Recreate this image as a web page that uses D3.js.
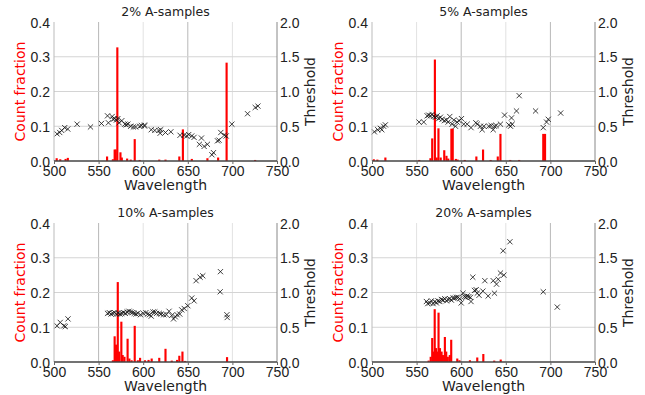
<!DOCTYPE html>
<html lang="en">
<head>
<meta charset="UTF-8">
<script src="https://cdn.jsdelivr.net/npm/d3@7"></script>
<style>
  body { margin: 0; padding: 0; background: #fff; overflow: hidden; }
  svg { display: block; font-family: "DejaVu Sans", sans-serif; }
  .grid line { stroke: #d4d4d4; stroke-width: 1; }
  .tick text { font-size: 14px; fill: #222; }
</style>
</head>
<body>
<div id="chart"></div>
<script>
const titles = ["2% A-samples", "5% A-samples", "10% A-samples", "20% A-samples"];
const xTicks = [500, 550, 600, 650, 700, 750];
const countTicks = [0.0, 0.1, 0.2, 0.3, 0.4];
const thrTicks = [0.0, 0.5, 1.0, 1.5, 2.0];

// count fraction bars (wavelength, fraction)
const bars2W = [503, 507, 513, 515.5, 559.5, 566, 568, 569.2, 571, 574.5, 576, 582, 586, 590.5, 596, 618, 625, 640.5, 644.5, 654.5, 672, 684, 693.5, 725.5];
const bars2V = [0.008, 0.005, 0.006, 0.009, 0.013, 0.005, 0.033, 0.033, 0.327, 0.025, 0.01, 0.007, 0.004, 0.063, 0.003, 0.004, 0.004, 0.013, 0.091, 0.006, 0.008, 0.01, 0.283, 0.003];
const bars5W = [502, 506, 515, 553, 565.5, 567.5, 570.5, 572.5, 574.5, 577, 581, 583.5, 585.5, 589, 590.5, 594, 596, 604, 617, 624.5, 633, 641, 644, 655, 665, 692, 694];
const bars5V = [0.005, 0.004, 0.01, 0.003, 0.008, 0.065, 0.292, 0.01, 0.094, 0.01, 0.031, 0.015, 0.007, 0.093, 0.093, 0.006, 0.004, 0.003, 0.013, 0.033, 0.003, 0.013, 0.078, 0.003, 0.003, 0.078, 0.078];
const bars10W = [566, 568, 569.5, 571.5, 573, 575.5, 577, 579, 582.5, 584.5, 587, 590.5, 594, 596.5, 602, 606, 609.5, 618, 625, 632, 638, 640.5, 644, 647, 694];
const bars10V = [0.005, 0.074, 0.05, 0.23, 0.03, 0.116, 0.02, 0.015, 0.067, 0.01, 0.005, 0.104, 0.005, 0.012, 0.005, 0.006, 0.01, 0.012, 0.038, 0.004, 0.006, 0.018, 0.03, 0.003, 0.014];
const bars20W = [563.5, 565.8, 567.5, 569, 570.3, 571.8, 573.2, 574.6, 576.2, 578, 579.5, 581.7, 583.2, 585, 587.2, 588.8, 595.6, 598, 609.8, 618, 624.8, 637, 644.3];
const bars20V = [0.004, 0.015, 0.069, 0.03, 0.152, 0.04, 0.03, 0.142, 0.04, 0.03, 0.02, 0.072, 0.03, 0.015, 0.02, 0.064, 0.01, 0.005, 0.005, 0.013, 0.023, 0.004, 0.007];

// threshold markers (wavelength, threshold)
const pts2W = [503.4, 506.4, 508.6, 512, 515.4, 525.9, 540.9, 553.2, 560, 561, 565.2, 566.3, 568, 570, 571.6, 573, 576, 579.5, 581, 582.8, 586, 589, 591.5, 596, 598, 601, 602, 609, 613, 617.7, 619.6, 619, 625, 631, 641.3, 645.8, 648.8, 651, 654.4, 657, 663, 665.3, 668.3, 672, 677, 678.8, 683.3, 685, 687, 690.8, 693, 699.4, 717, 725.6, 728.6];
const pts2T = [0.39, 0.41, 0.44, 0.48, 0.46, 0.53, 0.49, 0.54, 0.65, 0.55, 0.64, 0.60, 0.61, 0.59, 0.61, 0.55, 0.58, 0.53, 0.52, 0.53, 0.50, 0.49, 0.49, 0.50, 0.51, 0.51, 0.51, 0.45, 0.44, 0.44, 0.45, 0.40, 0.41, 0.42, 0.37, 0.37, 0.36, 0.38, 0.36, 0.34, 0.24, 0.33, 0.21, 0.24, 0.09, 0.12, 0.29, 0.30, 0.41, 0.37, 0.36, 0.53, 0.68, 0.77, 0.79];
const pts5W = [502.6, 506.4, 509.4, 511, 513, 515, 552.8, 558, 561.8, 563.6, 565.5, 567.4, 569.2, 571.1, 573, 574.8, 576.7, 578.6, 581.2, 583.5, 585.3, 587.2, 589.8, 591.7, 593.6, 595.4, 597.7, 600.3, 602.9, 606.7, 611, 616.4, 618, 621.6, 623.5, 625.4, 631, 633.6, 635.9, 637.3, 639.2, 644, 648.6, 653.4, 655.3, 656.4, 657.2, 662, 665, 683.4, 692, 695.7, 697.6, 711.5];
const pts5T = [0.42, 0.45, 0.47, 0.45, 0.50, 0.52, 0.56, 0.56, 0.65, 0.66, 0.65, 0.67, 0.64, 0.63, 0.65, 0.61, 0.63, 0.60, 0.58, 0.59, 0.56, 0.64, 0.53, 0.59, 0.50, 0.56, 0.58, 0.61, 0.53, 0.53, 0.48, 0.55, 0.53, 0.50, 0.45, 0.50, 0.50, 0.51, 0.45, 0.50, 0.51, 0.53, 0.66, 0.52, 0.50, 0.62, 0.53, 0.72, 0.94, 0.72, 0.48, 0.56, 0.60, 0.69];
const pts10W = [503.4, 507, 511, 512.7, 515.7, 560, 562, 564, 566, 568, 570, 572, 574, 576, 578, 580, 582, 584, 586, 588, 590, 592, 594, 597, 600, 603, 605, 607, 609, 611, 613, 615, 618, 620, 623, 626, 629, 632, 634, 636, 638, 641, 643.2, 646, 650, 654.4, 657, 659.3, 663.8, 666.8, 686.6, 686.3, 693.8, 694.2];
const pts10T = [0.52, 0.57, 0.52, 0.51, 0.62, 0.70, 0.71, 0.69, 0.70, 0.71, 0.69, 0.70, 0.69, 0.70, 0.71, 0.70, 0.72, 0.73, 0.72, 0.71, 0.70, 0.69, 0.70, 0.68, 0.70, 0.71, 0.69, 0.68, 0.66, 0.72, 0.72, 0.70, 0.70, 0.69, 0.68, 0.68, 0.73, 0.67, 0.62, 0.65, 0.68, 0.69, 0.75, 0.77, 0.81, 0.92, 0.88, 1.17, 1.22, 1.24, 1.30, 1.01, 0.68, 0.64];
const pts20W = [561, 562.5, 564.7, 566.6, 568.5, 570.4, 572.2, 574, 576, 577.8, 579.7, 581.6, 583.5, 585.3, 587.2, 589, 591, 592.8, 594.7, 596.6, 598.4, 600, 602, 603.7, 605.2, 606.7, 608.5, 610.4, 611, 613, 614.9, 616.8, 618, 620, 624.3, 626.5, 630.2, 635.9, 637.3, 639.6, 641.5, 644, 647.8, 647, 654.6, 692, 707.7];
const pts20T = [0.87, 0.84, 0.85, 0.88, 0.84, 0.87, 0.85, 0.88, 0.87, 0.90, 0.89, 0.91, 0.88, 0.90, 0.91, 0.89, 0.92, 0.92, 0.93, 0.93, 0.91, 0.85, 0.99, 0.94, 0.93, 0.95, 0.94, 0.93, 0.87, 1.22, 1.03, 1.04, 0.99, 0.96, 1.02, 1.17, 0.95, 1.17, 0.99, 1.12, 1.19, 1.28, 1.25, 1.60, 1.73, 1.01, 0.79];

const panels = [
  { title: titles[0], bw: bars2W, bv: bars2V, pw: pts2W, pt: pts2T, left: 54, top: 22, darkOdd: false },
  { title: titles[1], bw: bars5W, bv: bars5V, pw: pts5W, pt: pts5T, left: 372, top: 22, darkOdd: true },
  { title: titles[2], bw: bars10W, bv: bars10V, pw: pts10W, pt: pts10T, left: 54, top: 223, darkOdd: false },
  { title: titles[3], bw: bars20W, bv: bars20V, pw: pts20W, pt: pts20T, left: 372, top: 223, darkOdd: true }
];

const width = 645, height = 395;
const pw = 223, ph = 139;

const svg = d3.select("#chart").append("svg")
  .attr("width", width)
  .attr("height", height);

panels.forEach(p => {
  const g = svg.append("g").attr("transform", `translate(${p.left},${p.top})`);

  const x = d3.scaleLinear().domain([500, 750]).range([0, pw]);
  const yc = d3.scaleLinear().domain([0, 0.4]).range([ph, 0]);
  const yt = d3.scaleLinear().domain([0, 2.0]).range([ph, 0]);

  // grid (resampled image makes every other line look darker)
  const grid = g.append("g").attr("class", "grid");
  grid.selectAll(".vx").data(xTicks.slice(1, -1)).enter().append("line")
    .attr("x1", d => x(d)).attr("x2", d => x(d))
    .attr("y1", 0).attr("y2", ph)
    .style("stroke", (d, i) => (i % 2 === 1) === p.darkOdd ? "#b8b8b8" : "#e2e2e2");
  grid.selectAll(".hy").data(countTicks.slice(1, -1)).enter().append("line")
    .attr("x1", 0).attr("x2", pw)
    .attr("y1", d => yc(d)).attr("y2", d => yc(d));

  // bars
  g.append("g").selectAll("rect")
    .data(p.bw.map((w, i) => ({ w, v: p.bv[i] })))
    .enter().append("rect")
    .attr("x", d => x(d.w - 1.2))
    .attr("width", d => x(d.w + 1.2) - x(d.w - 1.2))
    .attr("y", d => yc(d.v))
    .attr("height", d => ph - yc(d.v))
    .attr("fill", "#ff0000");

  // x markers
  const s = 2.6;
  g.append("g").selectAll("path")
    .data(p.pw.map((w, i) => ({ w, t: p.pt[i] })))
    .enter().append("path")
    .attr("d", d => {
      const cx = x(d.w), cy = yt(d.t);
      return `M${cx - s},${cy - s}L${cx + s},${cy + s}M${cx - s},${cy + s}L${cx + s},${cy - s}`;
    })
    .attr("stroke", "#111")
    .attr("stroke-opacity", 0.8)
    .attr("stroke-width", 1)
    .attr("fill", "none");

  // spines
  g.append("line").attr("x1", 0).attr("x2", 0).attr("y1", 0).attr("y2", ph)
    .attr("stroke", "#bbb");
  g.append("line").attr("x1", pw).attr("x2", pw).attr("y1", 0).attr("y2", ph)
    .attr("stroke", "#888");
  g.append("line").attr("x1", 0).attr("x2", pw).attr("y1", ph).attr("y2", ph)
    .attr("stroke", "#444").attr("stroke-width", 1.6);

  // axes
  const ax = g.append("g").attr("transform", `translate(0,${ph})`)
    .call(d3.axisBottom(x).tickValues(xTicks).tickSize(3).tickPadding(2).tickFormat(d3.format("d")));
  ax.select(".domain").remove();
  ax.selectAll(".tick line").attr("stroke", "#666");

  const al = g.append("g")
    .call(d3.axisLeft(yc).tickValues(countTicks).tickSize(0).tickPadding(4).tickFormat(d3.format(".1f")));
  al.select(".domain").remove();
  al.selectAll(".tick text").attr("dy", "0.36em");

  const ar = g.append("g").attr("transform", `translate(${pw},0)`)
    .call(d3.axisRight(yt).tickValues(thrTicks).tickSize(0).tickPadding(3).tickFormat(d3.format(".1f")));
  ar.select(".domain").remove();
  ar.selectAll(".tick text").attr("dy", "0.36em");

  // labels
  g.append("text").attr("x", pw / 2).attr("y", -6)
    .attr("text-anchor", "middle").style("font-size", "12.5px").attr("fill", "#222")
    .text(p.title);
  g.append("text").attr("x", pw / 2).attr("y", ph + 29)
    .attr("text-anchor", "middle").style("font-size", "14px").attr("fill", "#222")
    .text("Wavelength");
  g.append("text")
    .attr("transform", `translate(-29,${ph / 2}) rotate(-90)`)
    .attr("text-anchor", "middle").style("font-size", "14px").attr("fill", "#ff0000")
    .text("Count fraction");
  g.append("text")
    .attr("transform", `translate(${pw + 38},${ph / 2}) rotate(-90)`)
    .attr("text-anchor", "middle").style("font-size", "14px").attr("fill", "#222")
    .text("Threshold");
});
</script>
</body>
</html>
